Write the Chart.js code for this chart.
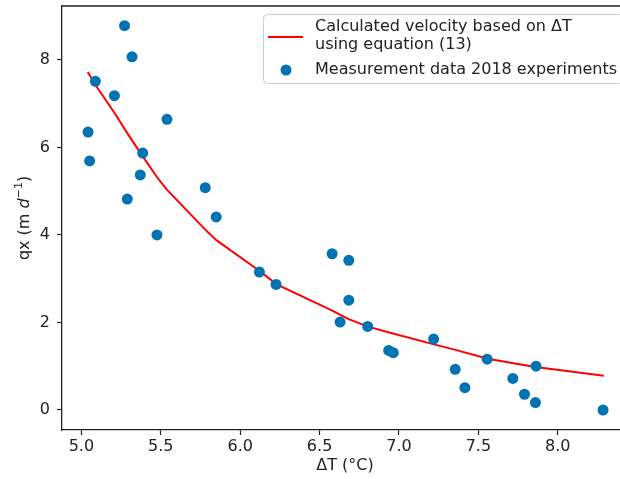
<!DOCTYPE html>
<html>
<head>
<meta charset="utf-8">
<script src="https://cdn.jsdelivr.net/npm/chart.js@4"></script>
<style>
  html, body { margin: 0; padding: 0; overflow: hidden; background: #fff; }
  canvas { display: block; }
</style>
</head>
<body>
<canvas id="chart" width="640" height="479"></canvas>
<script>
// tick labels
const xTicks = [5.0, 5.5, 6.0, 6.5, 7.0, 7.5, 8.0];
const yTicks = [0, 2, 4, 6, 8];

// measurement data 2018 experiments
const measuredX = [5.272, 5.319, 5.088, 5.208, 5.539, 5.042, 5.386, 5.052, 5.371, 5.780, 5.289,
    5.849, 5.476, 6.121, 6.226, 6.579, 6.684, 6.684, 6.629, 6.803, 6.935, 6.964, 7.218, 7.354,
    7.415, 7.555, 7.717, 7.790, 7.863, 7.859, 8.285];
const measuredY = [8.78, 8.07, 7.51, 7.18, 6.64, 6.35, 5.87, 5.69, 5.37, 5.08, 4.82,
    4.41, 4.00, 3.15, 2.87, 3.57, 3.42, 2.51, 2.01, 1.91, 1.36, 1.31, 1.62, 0.93,
    0.51, 1.16, 0.72, 0.36, 1.00, 0.17, 0.00];

// calculated velocity (equation 13)
const calcX = [5.04, 5.09, 5.21, 5.29, 5.37, 5.48, 5.54, 5.78, 5.85, 6.12, 6.23, 6.58, 6.68,
    6.80, 6.95, 7.22, 7.35, 7.56, 7.72, 7.86, 8.29];
const calcY = [7.72, 7.42, 6.78, 6.32, 5.88, 5.30, 5.03, 4.12, 3.88, 3.18, 2.87, 2.27, 2.08,
    1.91, 1.76, 1.50, 1.38, 1.17, 1.07, 0.98, 0.78];

const FONT = 'DejaVu Sans';
const INK = '#222222';

const spines = {
    id: 'spines',
    afterDraw(chart) {
        const { ctx, chartArea: a } = chart;
        ctx.save();
        ctx.strokeStyle = INK;
        ctx.lineWidth = 1.3;
        ctx.beginPath();
        ctx.moveTo(a.left, a.top);
        ctx.lineTo(a.right, a.top);
        ctx.lineTo(a.right, a.bottom);
        ctx.stroke();
        ctx.restore();
    }
};

const axisTitles = {
    id: 'axisTitles',
    afterDraw(chart) {
        const { ctx, chartArea: a } = chart;
        ctx.save();
        ctx.fillStyle = INK;
        ctx.textBaseline = 'middle';
        ctx.textAlign = 'center';
        ctx.font = `16px "${FONT}"`;
        ctx.fillText('\u0394T (\u00b0C)', (a.left + a.right) / 2, 466);

        // y title: qx (m d^-1)
        const parts = [
            { t: 'qx (m ', f: `16px "${FONT}"`, dy: 0 },
            { t: 'd', f: `italic 16px "${FONT}"`, dy: 0 },
            { t: '\u22121', f: `11px "${FONT}"`, dy: -6 },
            { t: ')', f: `16px "${FONT}"`, dy: 0 }
        ];
        let total = 0;
        parts.forEach(p => { ctx.font = p.f; p.w = ctx.measureText(p.t).width; total += p.w; });
        ctx.translate(25, (a.top + a.bottom) / 2);
        ctx.rotate(-Math.PI / 2);
        ctx.textAlign = 'left';
        let x = -total / 2;
        parts.forEach(p => {
            ctx.font = p.f;
            ctx.fillText(p.t, x, p.dy);
            x += p.w;
        });
        ctx.restore();
    }
};

const boxLegend = {
    id: 'boxLegend',
    afterDraw(chart) {
        const { ctx } = chart;
        const sets = chart.data.datasets;
        ctx.save();
        ctx.beginPath();
        ctx.roundRect(263.5, 14.5, 360, 69, 4);
        ctx.fillStyle = 'rgba(255,255,255,0.8)';
        ctx.fill();
        ctx.strokeStyle = '#cccccc';
        ctx.lineWidth = 1;
        ctx.stroke();

        ctx.strokeStyle = sets[0].borderColor;
        ctx.lineWidth = 2;
        ctx.beginPath();
        ctx.moveTo(268, 37);
        ctx.lineTo(303, 37);
        ctx.stroke();

        ctx.fillStyle = sets[1].backgroundColor;
        ctx.beginPath();
        ctx.arc(286, 70, 5.5, 0, Math.PI * 2);
        ctx.fill();

        ctx.fillStyle = INK;
        ctx.font = `16px "${FONT}"`;
        ctx.textBaseline = 'middle';
        ctx.textAlign = 'left';
        const lines = sets[0].label.split('\n');
        ctx.fillText(lines[0], 315, 27);
        ctx.fillText(lines[1], 315, 45);
        ctx.fillText(sets[1].label, 315, 70);
        ctx.restore();
    }
};

const tickFont = { family: FONT, size: 16 };

new Chart(document.getElementById('chart').getContext('2d'), {
    type: 'scatter',
    data: {
        datasets: [{
            label: 'Calculated velocity based on \u0394T\nusing equation (13)',
            data: calcX.map((x, i) => ({ x: x, y: calcY[i] })),
            showLine: true,
            borderColor: '#ff0000',
            borderWidth: 2,
            pointRadius: 0,
            tension: 0,
            order: 1
        }, {
            label: 'Measurement data 2018 experiments',
            data: measuredX.map((x, i) => ({ x: x, y: measuredY[i] })),
            backgroundColor: '#0173b2',
            borderWidth: 0,
            pointRadius: 5.5,
            order: 0
        }]
    },
    options: {
        responsive: false,
        animation: false,
        layout: { padding: { top: 6, right: 12, left: 0, bottom: 0 } },
        plugins: { legend: { display: false }, tooltip: { enabled: false } },
        scales: {
            x: {
                type: 'linear',
                min: 4.878,
                max: 8.442,
                afterBuildTicks: s => { s.ticks = xTicks.map(v => ({ value: v })); },
                afterFit: s => { s.height = 49; s.paddingLeft = 0; s.paddingRight = 0; },
                ticks: {
                    callback: v => Number(v).toFixed(1),
                    color: INK, font: tickFont, padding: 2,
                    maxRotation: 0, autoSkip: false
                },
                grid: { drawOnChartArea: false, tickLength: 5, color: INK, tickWidth: 1.2 },
                border: { color: INK, width: 1.3 }
            },
            y: {
                type: 'linear',
                min: -0.457,
                max: 9.23,
                afterBuildTicks: s => { s.ticks = yTicks.map(v => ({ value: v })); },
                afterFit: s => { s.width = 62; s.paddingTop = 0; s.paddingBottom = 0; },
                ticks: { color: INK, font: tickFont, padding: 7, autoSkip: false },
                grid: { drawOnChartArea: false, tickLength: 5, color: INK, tickWidth: 1.2 },
                border: { color: INK, width: 1.3 }
            }
        }
    },
    plugins: [spines, axisTitles, boxLegend]
});
</script>
</body>
</html>
